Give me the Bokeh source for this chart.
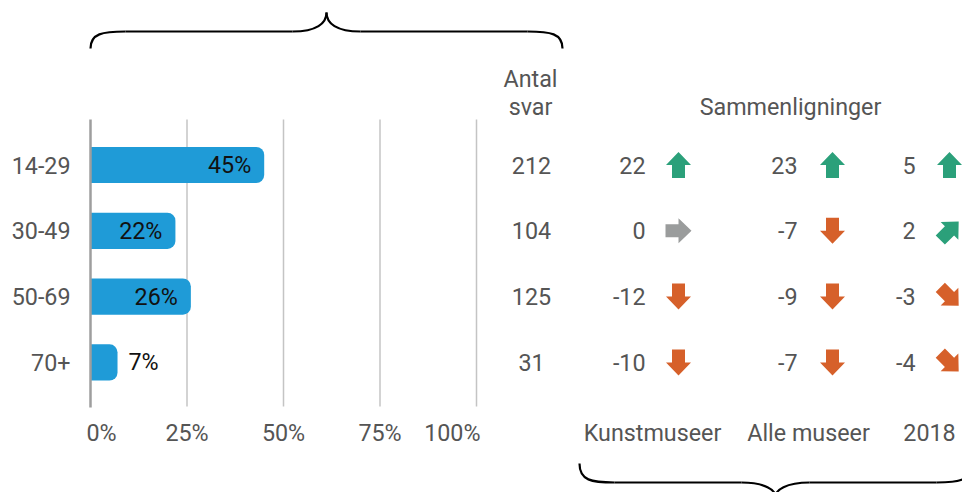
import math
from bokeh.plotting import figure
from bokeh.models import Range1d, ColumnDataSource
from bokeh.core.properties import value
from bokeh.embed import file_html
from bokeh.resources import INLINE

# ---------------- data ----------------
categories = ["14-29", "30-49", "50-69", "70+"]
shares = [45, 22, 26, 7]                 # percent
answers = [212, 104, 125, 31]            # Antal svar
comp_kunst = [22, 0, -12, -10]           # Kunstmuseer
comp_alle = [23, -7, -9, -7]             # Alle museer
comp_2018 = [5, 2, -3, -4]               # 2018
comp_labels = ["Kunstmuseer", "Alle museer", "2018"]
pct_ticks = [0, 25, 50, 75, 100]

# ---------------- layout (screen pixels) ----------------
W, H = 962, 492
X0, Y0 = 0, 0
ZERO_PX, PX_PER_PCT = 90.0, 3.86
ROW0_PX, ROW_STEP = 164.5, 65.8
FONT = value("Roboto")
FS = "23.3px"
GRAY_TXT = "#555555"
BLUE = "#1F9BD7"
GREEN = "#2BA07A"
ORANGE = "#D6602A"
NEUTRAL = "#9A9C9C"

p = figure(width=W, height=H, output_backend="svg", toolbar_location=None,
           x_range=Range1d(X0, X0 + W), y_range=Range1d(Y0 + H, Y0),
           x_axis_location=None, y_axis_location=None,
           min_border=0, outline_line_color=None)
p.grid.visible = False
p.extra_x_ranges = {"pct": Range1d((X0 - ZERO_PX) / PX_PER_PCT,
                                   (X0 + W - ZERO_PX) / PX_PER_PCT)}
p.extra_y_ranges = {"row": Range1d((Y0 + H - ROW0_PX) / ROW_STEP,
                                   (Y0 - ROW0_PX) / ROW_STEP)}

rows = list(range(len(categories)))

# gridlines
grid_vals = [t for t in pct_ticks if t != 0]
p.segment(x0=grid_vals, x1=grid_vals, y0=[119] * len(grid_vals), y1=[406] * len(grid_vals),
          x_range_name="pct", line_color="#C4C4C4", line_width=1.5)

# bars
src = ColumnDataSource(dict(y=rows, right=shares, left=[0] * len(shares)))
p.hbar(y="y", left="left", right="right", height=0.55, source=src,
       x_range_name="pct", y_range_name="row", fill_color=BLUE, line_color=None,
       border_radius=(0, 8, 8, 0))

# zero line
p.segment(x0=[0], x1=[0], y0=[119], y1=[407], x_range_name="pct",
          line_color="#9E9E9E", line_width=2.5)

# bar value labels
lab_in = [(r, s) for r, s in zip(rows, shares) if s >= 15]
lab_out = [(r, s) for r, s in zip(rows, shares) if s < 15]
if lab_in:
    p.text(x=[s for _, s in lab_in], y=[r for r, _ in lab_in],
           text=[f"{s}%" for _, s in lab_in], x_offset=-13,
           x_range_name="pct", y_range_name="row", text_align="right",
           text_baseline="middle", text_font=FONT, text_font_size=FS, text_color="#111111")
if lab_out:
    p.text(x=[s for _, s in lab_out], y=[r for r, _ in lab_out],
           text=[f"{s}%" for _, s in lab_out], x_offset=11,
           x_range_name="pct", y_range_name="row", text_align="left",
           text_baseline="middle", text_font=FONT, text_font_size=FS, text_color="#111111")

# category labels
p.text(x=[70] * len(rows), y=rows, text=categories, y_range_name="row",
       text_align="right", text_baseline="middle", text_font=FONT,
       text_font_size=FS, text_color=GRAY_TXT)

# percent tick labels
tick_y = 432
p.text(x=[pct_ticks[0]], y=[tick_y], text=[f"{pct_ticks[0]}%"], x_offset=-4,
       x_range_name="pct", text_align="left", text_baseline="middle",
       text_font=FONT, text_font_size=FS, text_color=GRAY_TXT)
p.text(x=pct_ticks[1:-1], y=[tick_y] * len(pct_ticks[1:-1]),
       text=[f"{t}%" for t in pct_ticks[1:-1]], x_range_name="pct",
       text_align="center", text_baseline="middle",
       text_font=FONT, text_font_size=FS, text_color=GRAY_TXT)
p.text(x=[pct_ticks[-1]], y=[tick_y], text=[f"{pct_ticks[-1]}%"], x_offset=4,
       x_range_name="pct", text_align="right", text_baseline="middle",
       text_font=FONT, text_font_size=FS, text_color=GRAY_TXT)

# Antal svar column
p.text(x=[530, 530], y=[78, 106], text=["Antal", "svar"], text_align="center",
       text_baseline="middle", text_font=FONT, text_font_size=FS, text_color=GRAY_TXT)
p.text(x=[531] * len(rows), y=rows, text=[str(a) for a in answers], y_range_name="row",
       text_align="center", text_baseline="middle", text_font=FONT,
       text_font_size=FS, text_color=GRAY_TXT)

# Sammenligninger
p.text(x=[790], y=[106], text=["Sammenligninger"], text_align="center",
       text_baseline="middle", text_font=FONT, text_font_size=FS, text_color=GRAY_TXT)

num_right = [645, 797, 915]
arrow_cx = [678, 832, 949]
label_cx = [652, 808, 929]
series = [comp_kunst, comp_alle, comp_2018]

TEMPLATE = [(0, -13), (12.5, 0), (6.5, 0), (6.5, 13), (-6.5, 13), (-6.5, 0), (-12.5, 0)]


def direction(v):
    if v >= 5:
        return 0
    if v > 0:
        return 45
    if v == 0:
        return 90
    if v > -5:
        return 135
    return 180


def color_for(v):
    return GREEN if v > 0 else (ORANGE if v < 0 else NEUTRAL)


xs, ys, cols = [], [], []
for c, vals in enumerate(series):
    p.text(x=[num_right[c]] * len(vals), y=rows, text=[str(v) for v in vals],
           y_range_name="row", text_align="right", text_baseline="middle",
           text_font=FONT, text_font_size=FS, text_color=GRAY_TXT)
    for r, v in zip(rows, vals):
        th = math.radians(direction(v))
        cy = ROW0_PX + r * ROW_STEP
        xs.append([arrow_cx[c] + px * math.cos(th) - py * math.sin(th) for px, py in TEMPLATE])
        ys.append([cy + px * math.sin(th) + py * math.cos(th) for px, py in TEMPLATE])
        cols.append(color_for(v))
p.patches(xs=xs, ys=ys, fill_color=cols, line_color=None)

p.text(x=label_cx, y=[tick_y] * 3, text=comp_labels, text_align="center",
       text_baseline="middle", text_font=FONT, text_font_size=FS, text_color=GRAY_TXT)

# braces
def brace(x_left, x_right, x_tip, y_end, y_mid, y_tip):
    s = 1 if y_tip < y_mid else -1
    bx0, by0, bx1, by1, c0x, c0y, c1x, c1y = [], [], [], [], [], [], [], []
    bx0 += [x_left]; by0 += [y_end]; bx1 += [x_left + 35]; by1 += [y_mid]
    c0x += [x_left]; c0y += [y_mid + s * 2]; c1x += [x_left + 12]; c1y += [y_mid]
    bx0 += [x_tip - 34]; by0 += [y_mid]; bx1 += [x_tip]; by1 += [y_tip]
    c0x += [x_tip - 10]; c0y += [y_mid]; c1x += [x_tip]; c1y += [y_mid - s * 8]
    bx0 += [x_tip]; by0 += [y_tip]; bx1 += [x_tip + 34]; by1 += [y_mid]
    c0x += [x_tip]; c0y += [y_mid - s * 8]; c1x += [x_tip + 10]; c1y += [y_mid]
    bx0 += [x_right - 35]; by0 += [y_mid]; bx1 += [x_right]; by1 += [y_end]
    c0x += [x_right - 12]; c0y += [y_mid]; c1x += [x_right]; c1y += [y_mid + s * 2]
    p.bezier(x0=bx0, y0=by0, x1=bx1, y1=by1, cx0=c0x, cy0=c0y, cx1=c1x, cy1=c1y,
             line_color="black", line_width=2.2)
    p.segment(x0=[x_left + 35, x_tip + 34], y0=[y_mid, y_mid],
              x1=[x_tip - 34, x_right - 35], y1=[y_mid, y_mid],
              line_color="black", line_width=2.2)


brace(90, 562, 326, 48, 31, 12)
brace(579, 971, 775, 463, 482, 496)

open("out.html", "w").write(file_html(p, INLINE))
